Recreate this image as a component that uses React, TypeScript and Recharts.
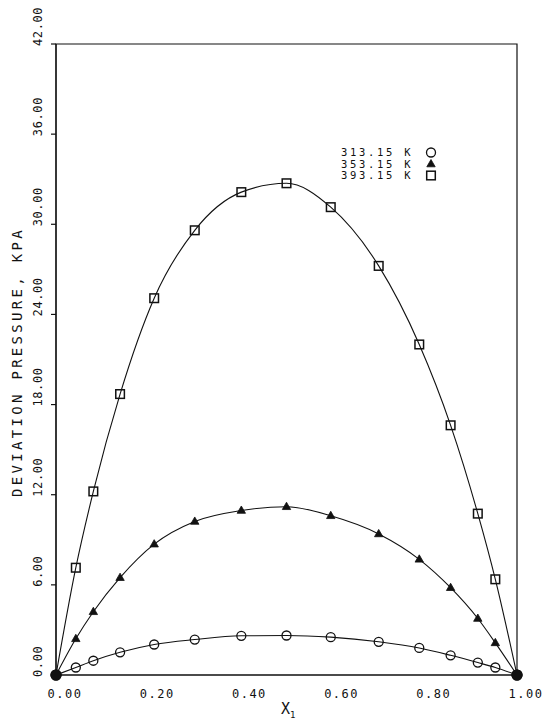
import {
  LineChart,
  Line,
  XAxis,
  YAxis,
  ReferenceArea,
} from 'recharts';

// mole fraction x1 and deviation pressure (kPa) at three temperatures
const xValues = [0, 0.043, 0.081, 0.139, 0.213, 0.301, 0.402, 0.5, 0.596, 0.7, 0.788, 0.856, 0.915, 0.953, 1.0];
const k313 = [0, 0.5, 0.95, 1.51, 2.03, 2.36, 2.61, 2.63, 2.52, 2.21, 1.8, 1.31, 0.83, 0.5, 0];
const k353 = [0, 2.41, 4.21, 6.48, 8.71, 10.22, 10.95, 11.2, 10.6, 9.39, 7.7, 5.81, 3.76, 2.14, 0];
const k393 = [0, 7.14, 12.22, 18.7, 25.08, 29.6, 32.14, 32.73, 31.14, 27.23, 22.0, 16.62, 10.74, 6.37, 0];

const seriesNames = ['313.15 K', '353.15 K', '393.15 K'];
const seriesKeys = ['k313', 'k353', 'k393'];
const markers = ['circle', 'triangle', 'square'];

const xTicks = [0, 0.2, 0.4, 0.6, 0.8, 1.0];
const yTicks = [0, 6, 12, 18, 24, 30, 36, 42];

const data = xValues.map((x, i) => ({
  x,
  k313: k313[i],
  k353: k353[i],
  k393: k393[i],
}));

const FONT = '"DejaVu Sans Mono", monospace';
const INK = '#111';

function Marker({ kind, cx, cy }: { kind: string; cx: number; cy: number }) {
  if (kind === 'circle') {
    return <circle cx={cx} cy={cy} r={4.5} fill="none" stroke={INK} strokeWidth={1.3} />;
  }
  if (kind === 'triangle') {
    return (
      <polygon
        points={`${cx},${cy - 4.5} ${cx - 4.2},${cy + 2.8} ${cx + 4.2},${cy + 2.8}`}
        fill={INK}
        stroke={INK}
        strokeWidth={0.8}
      />
    );
  }
  return <rect x={cx - 4.3} y={cy - 4.3} width={8.6} height={8.6} fill="none" stroke={INK} strokeWidth={1.5} />;
}

const makeDot = (kind: string) => (props: any) => {
  const { cx, cy, payload, index } = props;
  if (cx == null || cy == null) return <g key={index} />;
  if (payload.x === 0 || payload.x === 1) {
    return <circle key={index} cx={cx} cy={cy} r={5.5} fill={INK} />;
  }
  return (
    <g key={index}>
      <Marker kind={kind} cx={cx} cy={cy} />
    </g>
  );
};

const XTick = ({ x, y, payload }: any) => (
  <text x={x + 9} y={y + 15} textAnchor="middle" fontFamily={FONT} fontSize={12} letterSpacing={1.5} fill={INK}>
    {Number(payload.value).toFixed(2)}
  </text>
);

const YTick = ({ x, y, payload }: any) => (
  <text
    transform={`translate(${x - 7},${y + 2}) rotate(-90)`}
    textAnchor="start"
    fontFamily={FONT}
    fontSize={12}
    letterSpacing={0.6}
    fill={INK}
  >
    {Number(payload.value).toFixed(2)}
  </text>
);

export default function App() {
  return (
    <div style={{ position: 'absolute', left: 0, top: 0, background: '#fff' }}>
      <LineChart width={545} height={719} data={data} margin={{ top: 44, right: 28, bottom: 0, left: 0 }}>
        <XAxis
          dataKey="x"
          type="number"
          domain={[0, 1]}
          ticks={xTicks}
          tickLine={false}
          axisLine={{ stroke: INK, strokeWidth: 1.2 }}
          tick={<XTick />}
          height={44}
          interval={0}
        />
        <YAxis
          type="number"
          domain={[0, 42]}
          ticks={yTicks}
          tickSize={5}
          tickLine={{ stroke: INK, strokeWidth: 1.2 }}
          axisLine={{ stroke: INK, strokeWidth: 1.2 }}
          tick={<YTick />}
          width={56}
          interval={0}
        />
        <ReferenceArea x1={0} x2={1} y1={0} y2={42} fill="none" fillOpacity={0} stroke={INK} strokeWidth={1.2} />
        {seriesKeys.map((key, i) => (
          <Line
            key={key}
            dataKey={key}
            name={seriesNames[i]}
            type="monotone"
            stroke={INK}
            strokeWidth={1.1}
            dot={makeDot(markers[i])}
            activeDot={false}
            isAnimationActive={false}
          />
        ))}
      </LineChart>
      <svg width={545} height={719} style={{ position: 'absolute', left: 0, top: 0, pointerEvents: 'none' }}>
        <text
          transform="translate(22,362) rotate(-90)"
          textAnchor="middle"
          fontFamily={FONT}
          fontSize={14}
          letterSpacing={3.3}
          fill={INK}
        >
          DEVIATION PRESSURE, KPA
        </text>
        <text x={281} y={714} fontFamily={FONT} fontSize={15} fill={INK}>
          X
          <tspan fontSize={9} dy={4}>1</tspan>
        </text>
        {seriesNames.map((name, i) => (
          <g key={name}>
            <text x={341} y={156 + i * 11.5} fontFamily={FONT} fontSize={10.5} letterSpacing={2.7} fill={INK}>
              {name}
            </text>
            <Marker kind={markers[i]} cx={431} cy={152.5 + i * 11.5} />
          </g>
        ))}
      </svg>
    </div>
  );
}
